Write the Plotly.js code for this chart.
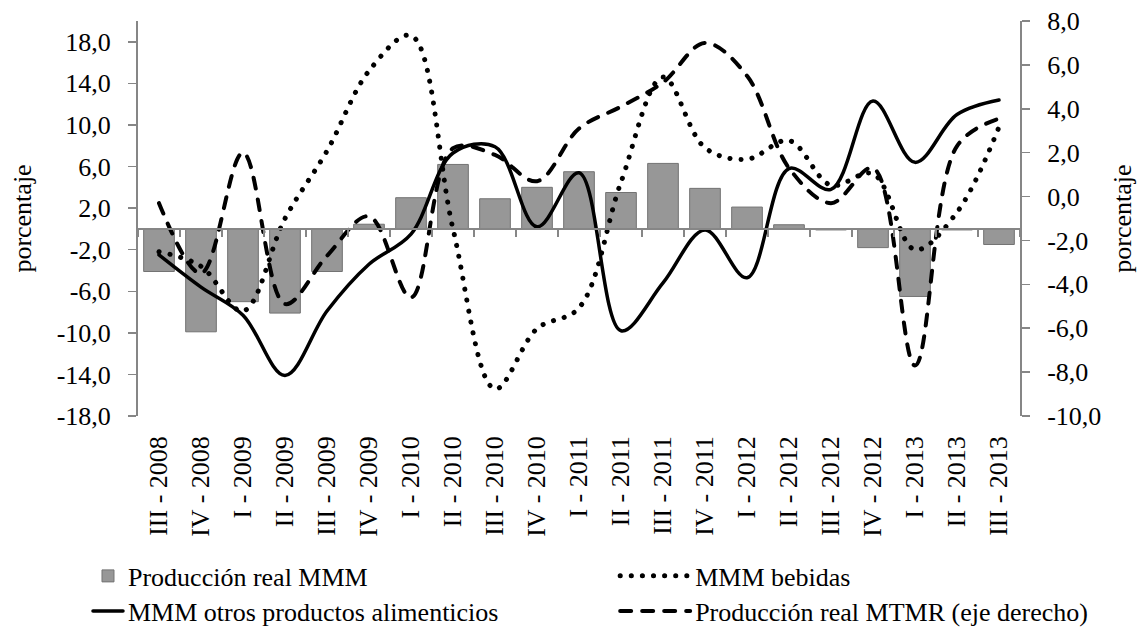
<!DOCTYPE html>
<html>
<head>
<meta charset="utf-8">
<script src="https://cdn.plot.ly/plotly-3.0.1.min.js"></script>
<style>
  html, body { margin: 0; padding: 0; background: #fff; }
  #chart { width: 1145px; height: 632px; }
  path.js-line { stroke-linecap: round; }
  .legendlines path { stroke-linecap: round; }
</style>
</head>
<body>
<div id="chart"></div>
<script>
// ---- data ----
var categories = ['III - 2008','IV - 2008','I - 2009','II - 2009','III - 2009','IV - 2009',
  'I - 2010','II - 2010','III - 2010','IV - 2010','I - 2011','II - 2011','III - 2011','IV - 2011',
  'I - 2012','II - 2012','III - 2012','IV - 2012','I - 2013','II - 2013','III - 2013'];

var produccionMMM = [-4.1, -9.9, -7.0, -8.1, -4.1, 0.45, 3.0, 6.2, 2.9, 4.0, 5.5, 3.5, 6.3, 3.9,
  2.1, 0.4, -0.1, -1.8, -6.5, -0.1, -1.5];

var bebidas = [-2.2, -3.6, -7.9, 1.0, 7.5, 15.2, 18.6, 0.0, -15.4, -9.6, -7.6, 4.5, 14.6, 7.8,
  6.7, 8.5, 4.2, 5.3, -2.0, 1.6, 9.8];

var otrosAlimenticios = [-2.5, -5.6, -8.3, -14.1, -7.9, -3.4, -0.5, 7.3, 7.9, 0.2, 5.4, -9.8,
  -5.2, -0.1, -4.7, 5.8, 3.8, 12.3, 6.4, 11.0, 12.4];

var produccionMTMR = [-0.3, -3.5, 2.0, -4.9, -2.7, -0.9, -4.6, 2.2, 1.9, 0.7, 3.1, 4.1, 5.2, 7.0,
  5.5, 1.3, -0.3, 1.3, -7.7, 2.3, 3.55];

var leftTicks = [-18, -14, -10, -6, -2, 2, 6, 10, 14, 18];
var leftTickLabels = ['-18,0','-14,0','-10,0','-6,0','-2,0','2,0','6,0','10,0','14,0','18,0'];
var rightTicks = [-10, -8, -6, -4, -2, 0, 2, 4, 6, 8];
var rightTickLabels = ['-10,0','-8,0','-6,0','-4,0','-2,0','0,0','2,0','4,0','6,0','8,0'];

var leftRange = [-18, 20];
var rightRange = [-10, 8];

// ---- chart ----
var FONT = '"Liberation Serif", "Times New Roman", Times, serif';
var AXC = '#868686';
var TF = { family: FONT, size: 26, color: '#000' };
var LF = { family: FONT, size: 26, color: '#000' };

var traces = [
  {
    type: 'bar', name: 'Producción real MMM', x: categories, y: produccionMMM,
    xaxis: 'x', yaxis: 'y',
    marker: { color: '#979797', line: { color: '#737373', width: 1 } },
    legend: 'legend'
  },
  {
    type: 'scatter', mode: 'lines', name: 'MMM bebidas', x: categories, y: bebidas,
    xaxis: 'x2', yaxis: 'y',
    line: { color: '#000', width: 5, dash: '0.1px,11px', shape: 'spline', smoothing: 1 },
    legend: 'legend2'
  },
  {
    type: 'scatter', mode: 'lines', name: 'MMM otros productos alimenticios', x: categories, y: otrosAlimenticios,
    xaxis: 'x2', yaxis: 'y',
    line: { color: '#000', width: 3.5, shape: 'spline', smoothing: 1 },
    legend: 'legend3'
  },
  {
    type: 'scatter', mode: 'lines', name: 'Producción real MTMR (eje derecho)', x: categories, y: produccionMTMR,
    xaxis: 'x2', yaxis: 'y2',
    line: { color: '#000', width: 4, dash: '11px,11px', shape: 'spline', smoothing: 1 },
    legend: 'legend4'
  }
];

var zeroPos = (0 - leftRange[0]) / (leftRange[1] - leftRange[0]);

function leg(x, y, iw) {
  return {
    orientation: 'v', x: x, xanchor: 'left', y: y, yanchor: 'middle',
    font: LF, bgcolor: 'rgba(0,0,0,0)', itemwidth: iw, borderwidth: 0
  };
}

var layout = {
  width: 1145, height: 632,
  paper_bgcolor: '#fff', plot_bgcolor: '#fff',
  font: TF,
  margin: { l: 138, r: 125, t: 21, b: 216, pad: 0, autoexpand: false },
  bargap: 0.27,
  showlegend: true,
  xaxis: {
    type: 'category', range: [-0.5, categories.length - 0.5],
    anchor: 'free', position: zeroPos,
    showline: true, linecolor: AXC, linewidth: 2,
    ticks: 'outside', tickson: 'boundaries', ticklen: 7, tickcolor: AXC, tickwidth: 1.5,
    showticklabels: false, showgrid: false, zeroline: false, fixedrange: true
  },
  xaxis2: {
    type: 'category', overlaying: 'x', range: [-0.5, categories.length - 0.5],
    anchor: 'y', side: 'bottom',
    showline: false, ticks: '', showgrid: false, zeroline: false,
    tickangle: -90, tickfont: TF,
    ticklabelstandoff: 14
  },
  yaxis: {
    range: leftRange, tickvals: leftTicks, ticktext: leftTickLabels,
    showline: true, linecolor: AXC, linewidth: 2,
    ticks: 'outside', ticklen: 8, tickcolor: AXC, tickwidth: 1.5,
    showgrid: false, zeroline: false,
    tickfont: TF,
    ticklabelstandoff: 12,
    title: { text: 'porcentaje', font: TF, standoff: 18 }
  },
  yaxis2: {
    overlaying: 'y', side: 'right', anchor: 'x2',
    range: rightRange, tickvals: rightTicks, ticktext: rightTickLabels,
    showline: true, linecolor: AXC, linewidth: 2,
    ticks: 'outside', ticklen: 8, tickcolor: AXC, tickwidth: 1.5,
    showgrid: false, zeroline: false,
    tickfont: TF,
    ticklabelstandoff: 12,
    title: { text: 'porcentaje', font: TF, standoff: 12 }
  },
  legend: leg(-0.0567, -0.405, 30),
  legend2: leg(0.541, -0.405, 70),
  legend3: leg(-0.0567, -0.494, 30),
  legend4: leg(0.541, -0.494, 70)
};

Plotly.newPlot('chart', traces, layout, { displayModeBar: false, staticPlot: true });
</script>
</body>
</html>
